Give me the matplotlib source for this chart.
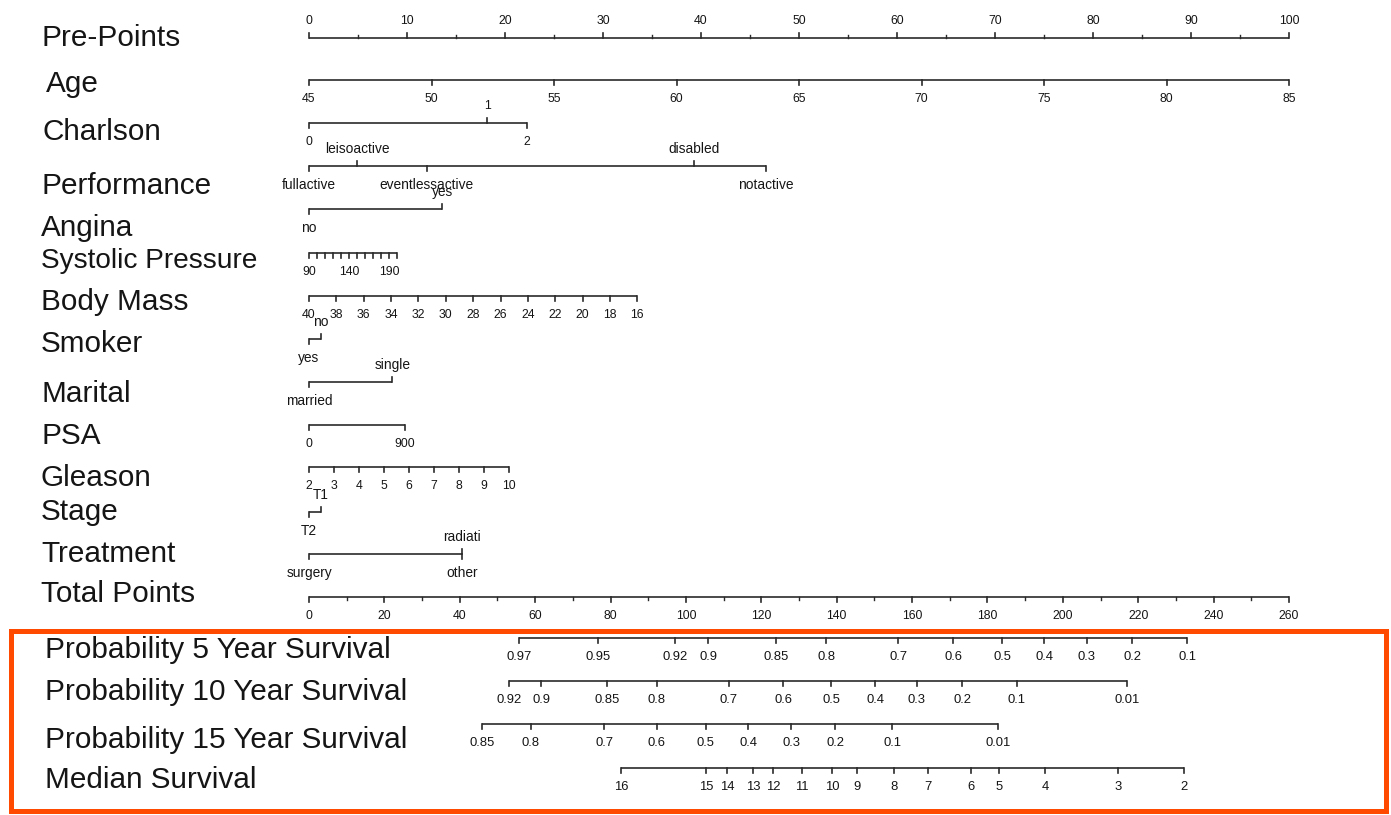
import matplotlib
matplotlib.use("Agg")
import matplotlib.pyplot as plt
from matplotlib.patches import Rectangle
from matplotlib.transforms import blended_transform_factory

plt.rcParams['font.family'] = ['Liberation Sans', 'DejaVu Sans']

# ---------------------------------------------------------------- data
pre_points_ticks = list(range(0, 101, 10))
pre_points_minor = list(range(5, 100, 10))

age_ticks = [45, 50, 55, 60, 65, 70, 75, 80, 85]
age_points_at_ends = [0, 100]            # points for age 45 and 85

charlson_levels = ['0', '1', '2']
charlson_points = [0, 18.2, 22.2]
charlson_sides = ['below', 'above', 'below']

performance_levels = ['fullactive', 'leisoactive', 'eventlessactive', 'disabled', 'notactive']
performance_points = [0, 4.9, 12.0, 39.3, 46.6]
performance_sides = ['below', 'above', 'below', 'above', 'below']

angina_levels = ['no', 'yes']
angina_points = [0, 13.6]
angina_sides = ['below', 'above']

systolic_ticks = [90, 100, 110, 120, 130, 140, 150, 160, 170, 180, 190, 200]
systolic_labels = {90: '90', 140: '140', 190: '190'}
systolic_points_at_ends = [0, 9.0]       # points for 90 and 200

body_mass_ticks = [40, 38, 36, 34, 32, 30, 28, 26, 24, 22, 20, 18, 16]
body_mass_points_at_ends = [0, 33.5]     # points for 40 and 16

smoker_levels = ['yes', 'no']
smoker_points = [0, 1.2]
smoker_sides = ['below', 'above']

marital_levels = ['married', 'single']
marital_points = [0, 8.5]
marital_sides = ['below', 'above']

psa_ticks = [0, 900]
psa_points = [0, 9.8]

gleason_ticks = [2, 3, 4, 5, 6, 7, 8, 9, 10]
gleason_points_at_ends = [0, 20.4]       # points for 2 and 10

stage_levels = ['T2', 'T1']
stage_points = [0, 1.2]
stage_sides = ['below', 'above']

treatment_levels = ['surgery', 'radiati', 'other']
treatment_points = [0, 15.6, 15.6]
treatment_sides = ['below', 'above', 'below']

total_points_ticks = list(range(0, 261, 20))
total_points_minor = list(range(10, 260, 20))
total_points_max = 260

surv5_labels = ['0.97', '0.95', '0.92', '0.9', '0.85', '0.8', '0.7', '0.6',
                '0.5', '0.4', '0.3', '0.2', '0.1']
surv5_total = [55.7, 76.7, 97.1, 105.9, 123.9, 137.2, 156.3, 170.9,
               183.9, 195.0, 206.4, 218.4, 233.0]

surv10_labels = ['0.92', '0.9', '0.85', '0.8', '0.7', '0.6', '0.5', '0.4',
                 '0.3', '0.2', '0.1', '0.01']
surv10_total = [53.1, 61.6, 79.1, 92.3, 111.4, 125.8, 138.5, 150.2,
                161.3, 173.3, 187.8, 217.0]

surv15_labels = ['0.85', '0.8', '0.7', '0.6', '0.5', '0.4', '0.3', '0.2',
                 '0.1', '0.01']
surv15_total = [45.9, 58.9, 78.3, 92.3, 105.3, 116.5, 127.9, 139.6,
                154.7, 182.8]

median_labels = ['16', '15', '14', '13', '12', '11', '10', '9', '8', '7',
                 '6', '5', '4', '3', '2']
median_total = [82.8, 105.3, 110.9, 117.8, 123.1, 130.8, 138.8, 145.4,
                155.2, 164.2, 175.6, 183.1, 195.3, 214.6, 232.2]

# ---------------------------------------------------------------- layout
W, H, DPI = 1391, 815, 100
X0_PX, X100_PX = 309, 1289               # where 0 and 100 points sit

fig = plt.figure(figsize=(W / DPI, H / DPI), dpi=DPI)
ax = fig.add_axes([0, 0, 1, 1])
px_per_pt = (X100_PX - X0_PX) / 100.0
ax.set_xlim(-X0_PX / px_per_pt, (W - X0_PX) / px_per_pt)
ax.set_ylim(H, 0)
ax.axis('off')

LINE_C = '#2a2a2a'
TEXT_C = '#151515'
TICK_LEN = 5
LBL_OFF_BELOW = 19
LBL_OFF_ABOVE = 17
NUM_FS = 8.8
SURV_FS = 9.4
CAT_FS = 9.9
NAME_FS = 21.4


def lin(vals, v0, v1, p0, p1):
    return [p0 + (v - v0) * (p1 - p0) / (v1 - v0) for v in vals]


def scale_row(y, pos, labels, sides, minor=(), fs=NUM_FS):
    ax.plot([min(pos), max(pos)], [y, y], color=LINE_C, lw=1.2,
            solid_capstyle='butt')
    for p, lab, s in zip(pos, labels, sides):
        d = -1 if s == 'above' else 1
        ax.plot([p, p], [y, y + d * TICK_LEN], color=LINE_C, lw=1.2)
        if lab:
            off = -LBL_OFF_ABOVE if s == 'above' else LBL_OFF_BELOW
            ax.text(p, y + off, lab, ha='center', va='center',
                    fontsize=fs, color=TEXT_C)
    d = -1 if sides[0] == 'above' else 1
    for p in minor:
        ax.plot([p, p], [y, y + d * TICK_LEN * 0.55], color=LINE_C, lw=1.0)


name_tr = blended_transform_factory(fig.transFigure, ax.transData)


def name(txt, y, xpx=41, fs=NAME_FS):
    ax.text(xpx / W, y + 2.5, txt, transform=name_tr, ha='left',
            va='center', fontsize=fs, color=TEXT_C)


# Pre-Points
name('Pre-Points', 35)
scale_row(38, pre_points_ticks, [str(v) for v in pre_points_ticks],
          ['above'] * len(pre_points_ticks), minor=pre_points_minor)

# Age
name('Age', 82, 46)
scale_row(80, lin(age_ticks, 45, 85, *age_points_at_ends),
          [str(v) for v in age_ticks], ['below'] * len(age_ticks))

# Charlson
name('Charlson', 130, 43)
scale_row(123, charlson_points, charlson_levels, charlson_sides)

# Performance
name('Performance', 183)
scale_row(166, performance_points, performance_levels, performance_sides,
          fs=CAT_FS)

# Angina
name('Angina', 226)
scale_row(209, angina_points, angina_levels, angina_sides, fs=CAT_FS)

# Systolic Pressure
name('Systolic Pressure', 258, fs=20.2)
scale_row(253, lin(systolic_ticks, 90, 200, *systolic_points_at_ends),
          [systolic_labels.get(v, '') for v in systolic_ticks],
          ['below'] * len(systolic_ticks))

# Body Mass
name('Body Mass', 299)
scale_row(296, lin(body_mass_ticks, 40, 16, *body_mass_points_at_ends),
          [str(v) for v in body_mass_ticks], ['below'] * len(body_mass_ticks))

# Smoker
name('Smoker', 341)
scale_row(339, smoker_points, smoker_levels, smoker_sides, fs=CAT_FS)

# Marital
name('Marital', 392)
scale_row(382, marital_points, marital_levels, marital_sides, fs=CAT_FS)

# PSA
name('PSA', 434)
scale_row(425, psa_points, [str(v) for v in psa_ticks], ['below', 'below'])

# Gleason
name('Gleason', 475)
scale_row(467, lin(gleason_ticks, 2, 10, *gleason_points_at_ends),
          [str(v) for v in gleason_ticks], ['below'] * len(gleason_ticks))

# Stage
name('Stage', 510)
scale_row(512, stage_points, stage_levels, stage_sides, fs=CAT_FS)

# Treatment
name('Treatment', 551)
scale_row(554, treatment_points, treatment_levels, treatment_sides, fs=CAT_FS)

# Total Points (drawn on the pre-points scale)
tp = 100.0 / total_points_max
name('Total Points', 592)
scale_row(597, [v * tp for v in total_points_ticks],
          [str(v) for v in total_points_ticks],
          ['below'] * len(total_points_ticks),
          minor=[v * tp for v in total_points_minor])

# Survival scales
name('Probability 5 Year Survival', 647, 45)
scale_row(638, [v * tp for v in surv5_total], surv5_labels,
          ['below'] * len(surv5_labels), fs=SURV_FS)

name('Probability 10 Year Survival', 690, 45)
scale_row(681, [v * tp for v in surv10_total], surv10_labels,
          ['below'] * len(surv10_labels), fs=SURV_FS)

name('Probability 15 Year Survival', 737, 45)
scale_row(724, [v * tp for v in surv15_total], surv15_labels,
          ['below'] * len(surv15_labels), fs=SURV_FS)

name('Median Survival', 777, 45)
scale_row(768, [v * tp for v in median_total], median_labels,
          ['below'] * len(median_labels), fs=SURV_FS)

# Highlight frame round the survival scales
fig.patches.append(Rectangle((10.5 / W, 1 - 810.5 / H), (1386 - 10.5) / W,
                             (810.5 - 630.5) / H, transform=fig.transFigure,
                             fill=False, ec='#FF4A00', lw=3.6))

fig.savefig('out.png', dpi=DPI, facecolor='white')
